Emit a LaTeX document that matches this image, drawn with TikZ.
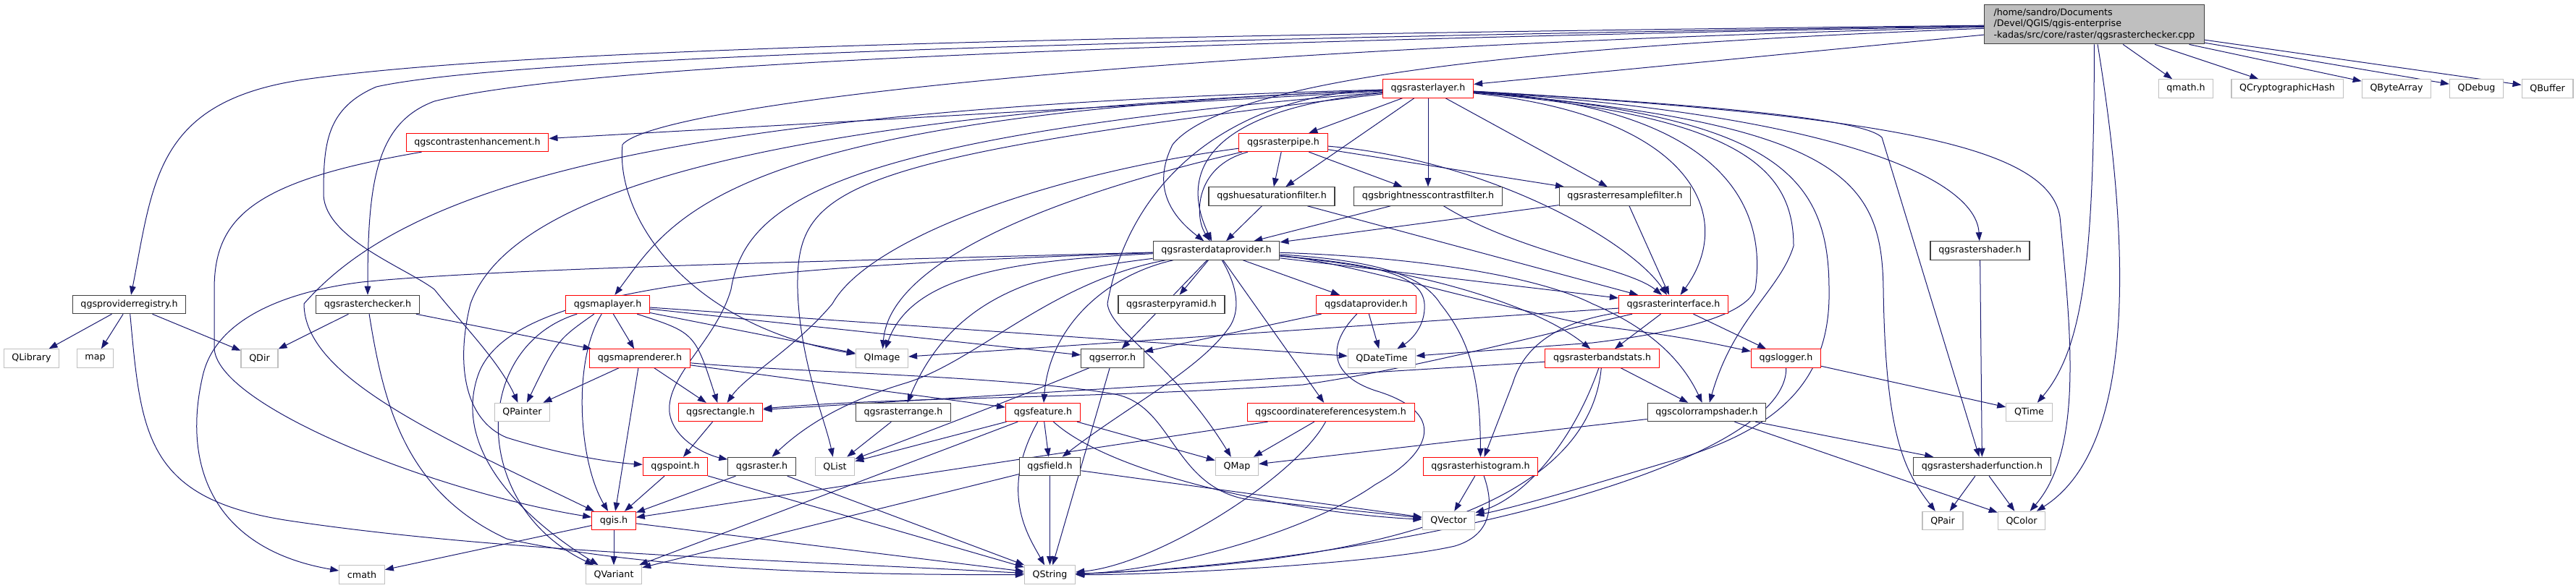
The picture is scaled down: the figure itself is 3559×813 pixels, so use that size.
\documentclass[tikz,border=0pt]{standalone}
\usepackage{fontspec}
\setmainfont{DejaVu Sans}
\usetikzlibrary{arrows.meta,backgrounds}
\definecolor{edgeblue}{RGB}{25,25,112}
\definecolor{hdrred}{RGB}{255,0,0}
\definecolor{sysgray}{RGB}{191,191,191}
\definecolor{hdrblack}{RGB}{64,64,64}

\begin{document}
\begin{tikzpicture}[
    x=0.75pt, y=-0.75pt,
    box/.style={rectangle, inner xsep=8.4pt, inner ysep=0pt, minimum height=19pt, font=\fontsize{9.5}{11}\selectfont, fill=white},
    hdr/.style={box, draw=hdrblack, line width=0.9pt},
    part/.style={box, draw=hdrred, line width=0.75pt},
    sys/.style={box, draw=sysgray, line width=0.9pt},
    src/.style={box, draw=hdrblack, fill=sysgray, align=left, line width=0.9pt, inner xsep=7pt, minimum width=228pt, minimum height=41pt, font=\fontsize{9.5}{11.3}\selectfont},
    incl/.style={-{Triangle[length=9pt,width=6.5pt]}, draw=edgeblue, line width=0.75pt}
]
\useasboundingbox (0,0) rectangle (3559,813);

% Source file
\node[src] (cpp) at (2893.5,33.5) {/home/sandro/Documents\\/Devel/QGIS/qgis-enterprise\\-kadas/src/core/raster/qgsrasterchecker.cpp};

% Row 1
\node[part] (rlayer) at (1973,122.5) {qgsrasterlayer.h};
\node[sys] (qmath) at (3020,122.5) {qmath.h};
\node[sys] (qcrypto) at (3160,122.5) {QCryptographicHash};
\node[sys] (qbytes) at (3311,122.5) {QByteArray};
\node[sys] (qdebug) at (3421.5,122.5) {QDebug};
\node[sys] (qbuffer) at (3519.5,122.5) {QBuffer};

% Row 2
\node[part] (contrast) at (659.5,197) {qgscontrastenhancement.h};
\node[part] (pipe) at (1773,197) {qgsrasterpipe.h};

% Row 3
\node[hdr] (hue) at (1757,271.5) {qgshuesaturationfilter.h};
\node[hdr] (bright) at (1973,271.5) {qgsbrightnesscontrastfilter.h};
\node[hdr] (resample) at (2245,271.5) {qgsrasterresamplefilter.h};

% Row 4
\node[hdr] (rdp) at (1680.5,346.5) {qgsrasterdataprovider.h};
\node[hdr] (rshader) at (2735.5,346.5) {qgsrastershader.h};

% Row 5
\node[hdr] (provreg) at (178.5,421) {qgsproviderregistry.h};
\node[hdr] (rchecker) at (508,421) {qgsrasterchecker.h};
\node[part] (maplayer) at (839.5,421) {qgsmaplayer.h};
\node[hdr] (pyramid) at (1618.5,421) {qgsrasterpyramid.h};
\node[part] (dprov) at (1887.5,421) {qgsdataprovider.h};
\node[part] (rif) at (2312,421) {qgsrasterinterface.h};

% Row 6
\node[sys] (qlibrary) at (43.5,495.5) {QLibrary};
\node[sys] (stdmap) at (131.5,495.5) {map};
\node[sys] (qdir) at (358.5,495.5) {QDir};
\node[part] (maprend) at (884,495.5) {qgsmaprenderer.h};
\node[sys] (qimage) at (1218.5,495.5) {QImage};
\node[hdr] (qgserr) at (1537,495.5) {qgserror.h};
\node[sys] (qdatetime) at (1909,495.5) {QDateTime};
\node[part] (bandstats) at (2213.5,495.5) {qgsrasterbandstats.h};
\node[part] (logger) at (2467.5,495.5) {qgslogger.h};

% Row 7
\node[sys] (qpainter) at (721.5,570) {QPainter};
\node[part] (rect) at (995.5,570) {qgsrectangle.h};
\node[hdr] (rrange) at (1248,570) {qgsrasterrange.h};
\node[part] (feature) at (1441,570) {qgsfeature.h};
\node[part] (crs) at (1838.5,570) {qgscoordinatereferencesystem.h};
\node[hdr] (colorramp) at (2358,570) {qgscolorrampshader.h};
\node[sys] (qtime) at (2803.5,570) {QTime};

% Row 8
\node[part] (point) at (933,645) {qgspoint.h};
\node[hdr] (raster) at (1052.5,645) {qgsraster.h};
\node[sys] (qlist) at (1153.5,645) {QList};
\node[hdr] (field) at (1450.5,645) {qgsfield.h};
\node[sys] (qmap) at (1709,645) {QMap};
\node[part] (histogram) at (2045.5,645) {qgsrasterhistogram.h};
\node[hdr] (shaderfn) at (2738.5,645) {qgsrastershaderfunction.h};

% Row 9
\node[part] (qgis) at (848,720) {qgis.h};
\node[sys] (qvector) at (2001.5,720) {QVector};
\node[sys] (qpair) at (2684,720) {QPair};
\node[sys] (qcolor) at (2793,720) {QColor};

% Row 10
\node[sys] (cmath) at (500,794.5) {cmath};
\node[sys] (qvariant) at (848,794.5) {QVariant};
\node[sys] (qstring) at (1450.5,794.5) {QString};

\begin{scope}[on background layer]
% From the source file
\draw[incl] (cpp) -- (rlayer);
\draw[incl] (cpp) -- (qmath);
\draw[incl] (cpp) -- (qcrypto);
\draw[incl] (cpp) -- (qbytes);
\draw[incl] (cpp) -- (qdebug);
\draw[incl] (cpp) -- (qbuffer);
\draw[incl] (cpp) .. controls (2893,350) and (2880,480) .. (qtime);
\draw[incl] (cpp) .. controls (2945,350) and (2950,620) .. (qcolor);
\draw[incl] (cpp) .. controls (1400,50) and (700,70) .. (420,110) .. controls (215,140) and (212,250) .. (provreg);
\draw[incl] (cpp) .. controls (1500,60) and (800,90) .. (600,140) .. controls (520,170) and (508,250) .. (rchecker);
\draw[incl] (cpp) .. controls (1500,55) and (700,80) .. (520,120) .. controls (450,150) and (447,200) .. (447,270) .. controls (450,330) and (560,370) .. (600,400) .. controls (640,450) and (690,500) .. (qpainter);
\draw[incl] (cpp) .. controls (2200,60) and (1700,100) .. (1620,200) .. controls (1590,260) and (1620,300) .. (rdp);
\draw[incl] (cpp) .. controls (1500,70) and (900,150) .. (860,200) .. controls (850,300) and (950,450) .. (qimage);

% qgsrasterlayer.h
\draw[incl] (rlayer) -- (contrast);
\draw[incl] (rlayer) -- (pipe);
\draw[incl] (rlayer) -- (hue);
\draw[incl] (rlayer) -- (bright);
\draw[incl] (rlayer) -- (resample);
\draw[incl] (rlayer) .. controls (1680,150) and (1625,230) .. (rdp);
\draw[incl] (rlayer) .. controls (2340,160) and (2400,300) .. (rif);
\draw[incl] (rlayer) .. controls (2550,160) and (2730,250) .. (rshader);
\draw[incl] (rlayer) .. controls (1000,160) and (930,300) .. (maplayer);
\draw[incl] (rlayer) .. controls (900,150) and (560,260) .. (420,420) .. controls (420,520) and (600,600) .. (qgis);
\draw[incl] (rlayer) .. controls (1000,160) and (700,280) .. (650,420) .. controls (630,500) and (640,580) .. (700,605) .. controls (780,630) and (850,640) .. (point);
\draw[incl] (rlayer) .. controls (1150,190) and (1030,280) .. (1010,400) .. controls (990,470) and (920,520) .. (925,570) .. controls (930,610) and (980,630) .. (raster);
\draw[incl] (rlayer) .. controls (1150,220) and (1100,260) .. (1102,400) .. controls (1105,500) and (1140,580) .. (qlist);
\draw[incl] (rlayer) .. controls (1700,130) and (1560,250) .. (1530,420) .. controls (1535,460) and (1620,500) .. (qmap);
\draw[incl] (rlayer) .. controls (2400,150) and (2440,300) .. (2425,400) .. controls (2410,440) and (2300,462) .. (2200,474) -- (qdatetime);
\draw[incl] (rlayer) .. controls (2400,160) and (2478,230) .. (2478,340) .. controls (2460,400) and (2395,440) .. (colorramp);
\draw[incl] (rlayer) .. controls (2450,160) and (2527,240) .. (2527,400) .. controls (2530,540) and (2440,600) .. (2300,640) .. controls (2200,670) and (2100,700) .. (qvector);
\draw[incl] (rlayer) .. controls (2550,170) and (2600,250) .. (2602,400) .. controls (2605,600) and (2630,650) .. (qpair);
\draw[incl] (rlayer) .. controls (2450,150) and (2580,170) .. (2600,190) -- (shaderfn);
\draw[incl] (rlayer) .. controls (2600,160) and (2830,200) .. (2846,300) .. controls (2860,450) and (2880,620) .. (qcolor);

% qgsrasterpipe.h
\draw[incl] (pipe) -- (hue);
\draw[incl] (pipe) -- (bright);
\draw[incl] (pipe) -- (resample);
\draw[incl] (pipe) .. controls (2050,220) and (2250,330) .. (rif);
\draw[incl] (pipe) .. controls (1650,230) and (1650,300) .. (rdp);
\draw[incl] (pipe) .. controls (1500,260) and (1230,350) .. (qimage);
\draw[incl] (pipe) .. controls (1450,240) and (1200,330) .. (1150,420) .. controls (1100,480) and (1030,520) .. (rect);

% Filters
\draw[incl] (hue) -- (rdp);
\draw[incl] (hue) -- (rif);
\draw[incl] (bright) -- (rdp);
\draw[incl] (bright) .. controls (2100,350) and (2250,370) .. (rif);
\draw[incl] (resample) -- (rdp);
\draw[incl] (resample) -- (rif);

% qgsrasterdataprovider.h
\draw[incl] (rdp) -- (pyramid);
\draw[incl] (rdp) .. controls (1200,360) and (700,370) .. (500,390) .. controls (420,400) and (300,430) .. (280,520) .. controls (250,650) and (300,760) .. (cmath);
\draw[incl] (rdp) .. controls (1000,370) and (700,400) .. (660,520) .. controls (620,640) and (760,740) .. (qvariant);
\draw[incl] (rdp) .. controls (1400,360) and (1260,380) .. (qimage);
\draw[incl] (rdp) .. controls (1900,365) and (1965,380) .. (1968,420) .. controls (1970,450) and (1950,470) .. (qdatetime);
\draw[incl] (rdp) .. controls (1950,355) and (2120,380) .. (2200,420) .. controls (2270,450) and (2320,490) .. (colorramp);
\draw[incl] (rdp) -- (crs);
\draw[incl] (rdp) -- (dprov);
\draw[incl] (rdp) -- (qgserr);
\draw[incl] (rdp) .. controls (1530,380) and (1450,450) .. (feature);
\draw[incl] (rdp) .. controls (1712,400) and (1712,430) .. (1700,450) .. controls (1660,510) and (1560,560) .. (field);
\draw[incl] (rdp) .. controls (1850,360) and (2050,420) .. (2200,450) .. controls (2330,465) and (2390,480) .. (logger);
\draw[incl] (rdp) .. controls (1950,370) and (2120,420) .. (bandstats);
\draw[incl] (rdp) .. controls (1450,390) and (1350,500) .. (1250,530) .. controls (1150,560) and (1100,600) .. (raster);
\draw[incl] (rdp) .. controls (1900,360) and (1965,380) .. (1990,420) .. controls (2030,470) and (2045,520) .. (histogram);
\draw[incl] (rdp) -- (rif);
\draw[incl] (rdp) .. controls (1450,375) and (1320,400) .. (rrange);

\draw[incl] (rshader) -- (shaderfn);

% qgsproviderregistry.h and qgsrasterchecker.h
\draw[incl] (provreg) -- (qlibrary);
\draw[incl] (provreg) -- (stdmap);
\draw[incl] (provreg) -- (qdir);
\draw[incl] (provreg) .. controls (195,600) and (200,690) .. (400,720) .. controls (700,765) and (1100,775) .. (qstring);
\draw[incl] (rchecker) -- (qdir);
\draw[incl] (rchecker) -- (maprend);
\draw[incl] (rchecker) .. controls (530,560) and (560,680) .. (700,745) .. controls (900,790) and (1200,795) .. (qstring);
\draw[incl] (contrast) .. controls (350,250) and (296,300) .. (296,400) -- (296,480) .. controls (296,560) and (600,680) .. (qgis);

% qgsmaplayer.h and qgsmaprenderer.h
\draw[incl] (maplayer) -- (maprend);
\draw[incl] (maplayer) .. controls (770,470) .. (qpainter);
\draw[incl] (maplayer) .. controls (790,500) and (800,640) .. (qgis);
\draw[incl] (maplayer) .. controls (960,460) .. (rect);
\draw[incl] (maplayer) .. controls (650,480) and (650,700) .. (qvariant);
\draw[incl] (maplayer) -- (qimage);
\draw[incl] (maplayer) -- (qgserr);
\draw[incl] (maplayer) -- (qdatetime);
\draw[incl] (maprend) -- (qpainter);
\draw[incl] (maprend) -- (rect);
\draw[incl] (maprend) -- (qgis);
\draw[incl] (maprend) -- (feature);
\draw[incl] (maprend) .. controls (1100,515) and (1400,520) .. (1540,545) .. controls (1620,560) and (1620,670) .. (1720,690) -- (qvector);

% Providers and interfaces
\draw[incl] (dprov) -- (qdatetime);
\draw[incl] (dprov) -- (qgserr);
\draw[incl] (dprov) .. controls (1830,480) and (1840,520) .. (1900,540) .. controls (2000,570) and (1980,625) .. (1900,670) .. controls (1800,740) and (1600,790) .. (qstring);
\draw[incl] (rif) -- (qimage);
\draw[incl] (rif) .. controls (2100,470) and (1950,510) .. (1800,532) .. controls (1500,552) and (1250,548) .. (rect);
\draw[incl] (rif) .. controls (2150,445) and (2105,480) .. (2090,530) -- (histogram);
\draw[incl] (rif) -- (bandstats);
\draw[incl] (rif) -- (logger);
\draw[incl] (qgserr) -- (qstring);
\draw[incl] (qgserr) .. controls (1380,560) and (1260,605) .. (qlist);
\draw[incl] (bandstats) -- (colorramp);
\draw[incl] (bandstats) .. controls (2170,620) and (2100,690) .. (qvector);
\draw[incl] (bandstats) .. controls (2195,700) and (1900,780) .. (qstring);
\draw[incl] (bandstats) -- (rect);
\draw[incl] (logger) -- (qtime);
\draw[incl] (logger) .. controls (2470,650) and (1900,780) .. (qstring);

% Lower rows
\draw[incl] (rect) -- (point);
\draw[incl] (rrange) -- (qlist);
\draw[incl] (feature) -- (qlist);
\draw[incl] (feature) -- (qvariant);
\draw[incl] (feature) .. controls (1380,680) and (1420,740) .. (qstring);
\draw[incl] (feature) -- (field);
\draw[incl] (feature) .. controls (1540,660) and (1800,710) .. (qvector);
\draw[incl] (feature) -- (qmap);
\draw[incl] (crs) -- (qmap);
\draw[incl] (crs) .. controls (1790,660) and (1600,780) .. (qstring);
\draw[incl] (crs) -- (qgis);
\draw[incl] (colorramp) -- (qmap);
\draw[incl] (colorramp) -- (shaderfn);
\draw[incl] (colorramp) -- (qcolor);
\draw[incl] (point) -- (qgis);
\draw[incl] (point) -- (qstring);
\draw[incl] (raster) -- (qgis);
\draw[incl] (raster) -- (qstring);
\draw[incl] (field) -- (qstring);
\draw[incl] (field) -- (qvariant);
\draw[incl] (field) -- (qvector);
\draw[incl] (histogram) -- (qvector);
\draw[incl] (histogram) .. controls (2065,700) and (2060,740) .. (2010,755) .. controls (1900,780) and (1600,795) .. (qstring);
\draw[incl] (shaderfn) -- (qpair);
\draw[incl] (shaderfn) -- (qcolor);
\draw[incl] (qgis) -- (qvariant);
\draw[incl] (qgis) -- (cmath);
\draw[incl] (qgis) -- (qstring);
\end{scope}

\end{tikzpicture}
\end{document}
